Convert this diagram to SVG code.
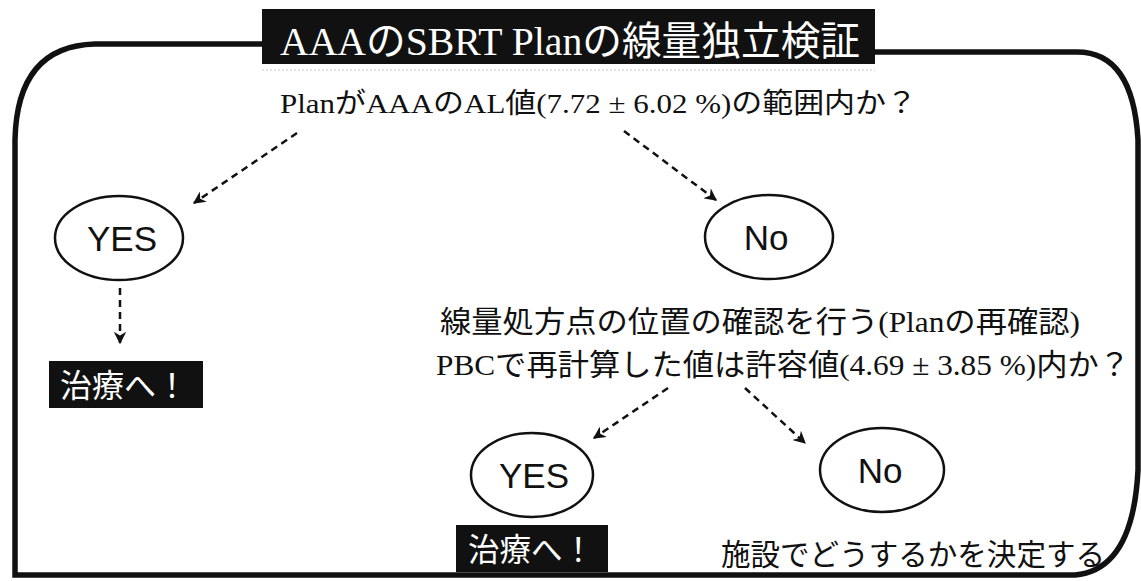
<svg xmlns="http://www.w3.org/2000/svg" width="1141" height="581" viewBox="0 0 1141 581">
<style>
.jp{font-family:"Liberation Serif","Noto Sans CJK JP",serif;fill:#111}
.lab{font-family:"Liberation Sans",Arial,sans-serif;font-size:35px;fill:#111;text-anchor:middle}
.node{fill:#fff;stroke:#111;stroke-width:2.5}
.blk{fill:#111}
.wt{font-family:"Noto Sans CJK JP",sans-serif;fill:#fff;font-size:32px}
.con{fill:none;stroke:#111;stroke-width:2.5;stroke-dasharray:7 5}
</style>
<defs>
<marker id="ah" viewBox="0 0 10 10" refX="9" refY="5" markerWidth="5" markerHeight="5" orient="auto" markerUnits="strokeWidth">
<path d="M0,0 L10,5 L0,10 L3,5 Z" fill="#111"/>
</marker>
</defs>
<rect width="1141" height="581" fill="#fff"/>
<g id="frame">
<path d="M262,44 L95,44 Q17,46 15,140 L15,575 L1075,575 Q1133,570 1138,470 L1138,140 Q1133,52 1077,52 L875,52" fill="none" stroke="#111" stroke-width="5.5"/>
</g>
<g id="title">
<rect x="262" y="9" width="613" height="55" class="blk"/>
<text x="280" y="55" class="jp" font-size="40" style="fill:#fff" textLength="580" lengthAdjust="spacingAndGlyphs">AAAのSBRT Planの線量独立検証</text>
<line x1="262" y1="70" x2="875" y2="70" stroke="#c8c8c8" stroke-width="1" stroke-dasharray="2 2"/>
</g>
<g id="q1">
<text x="280" y="113" class="jp" font-size="28" textLength="637" lengthAdjust="spacingAndGlyphs">PlanがAAAのAL値(7.72 ± 6.02 %)の範囲内か？</text>
</g>
<g id="yes1">
<ellipse cx="119" cy="238" rx="64" ry="42" class="node"/>
<text x="122" y="251" class="lab">YES</text>
</g>
<g id="no1">
<ellipse cx="769" cy="237" rx="64" ry="42" class="node"/>
<text x="766" y="250" class="lab">No</text>
</g>
<g id="treat1">
<rect x="49" y="361" width="154" height="47" class="blk"/>
<text x="60" y="397" class="wt" textLength="128" lengthAdjust="spacingAndGlyphs">治療へ！</text>
</g>
<g id="q2">
<text x="440" y="332" class="jp" font-size="30" textLength="640" lengthAdjust="spacingAndGlyphs">線量処方点の位置の確認を行う(Planの再確認)</text>
<text x="436" y="375" class="jp" font-size="30" textLength="694" lengthAdjust="spacingAndGlyphs">PBCで再計算した値は許容値(4.69 ± 3.85 %)内か？</text>
</g>
<g id="yes2">
<ellipse cx="532" cy="475" rx="61" ry="42" class="node"/>
<text x="534" y="488" class="lab">YES</text>
</g>
<g id="no2">
<ellipse cx="882" cy="470" rx="62" ry="42" class="node"/>
<text x="880" y="483" class="lab">No</text>
</g>
<g id="treat2">
<rect x="456" y="525" width="152" height="47" class="blk"/>
<text x="468" y="561" class="wt" textLength="126" lengthAdjust="spacingAndGlyphs">治療へ！</text>
</g>
<g id="decide">
<text x="721" y="565" class="jp" font-size="30" textLength="384" lengthAdjust="spacingAndGlyphs">施設でどうするかを決定する</text>
</g>
<g id="connectors">
<path d="M297,133 L194,203" class="con" marker-end="url(#ah)"/>
<path d="M624,131 L716,200" class="con" marker-end="url(#ah)"/>
<path d="M120,288 L120,343" class="con" marker-end="url(#ah)"/>
<path d="M668,388 L594,438" class="con" marker-end="url(#ah)"/>
<path d="M745,388 L805,443" class="con" marker-end="url(#ah)"/>
</g>
</svg>
